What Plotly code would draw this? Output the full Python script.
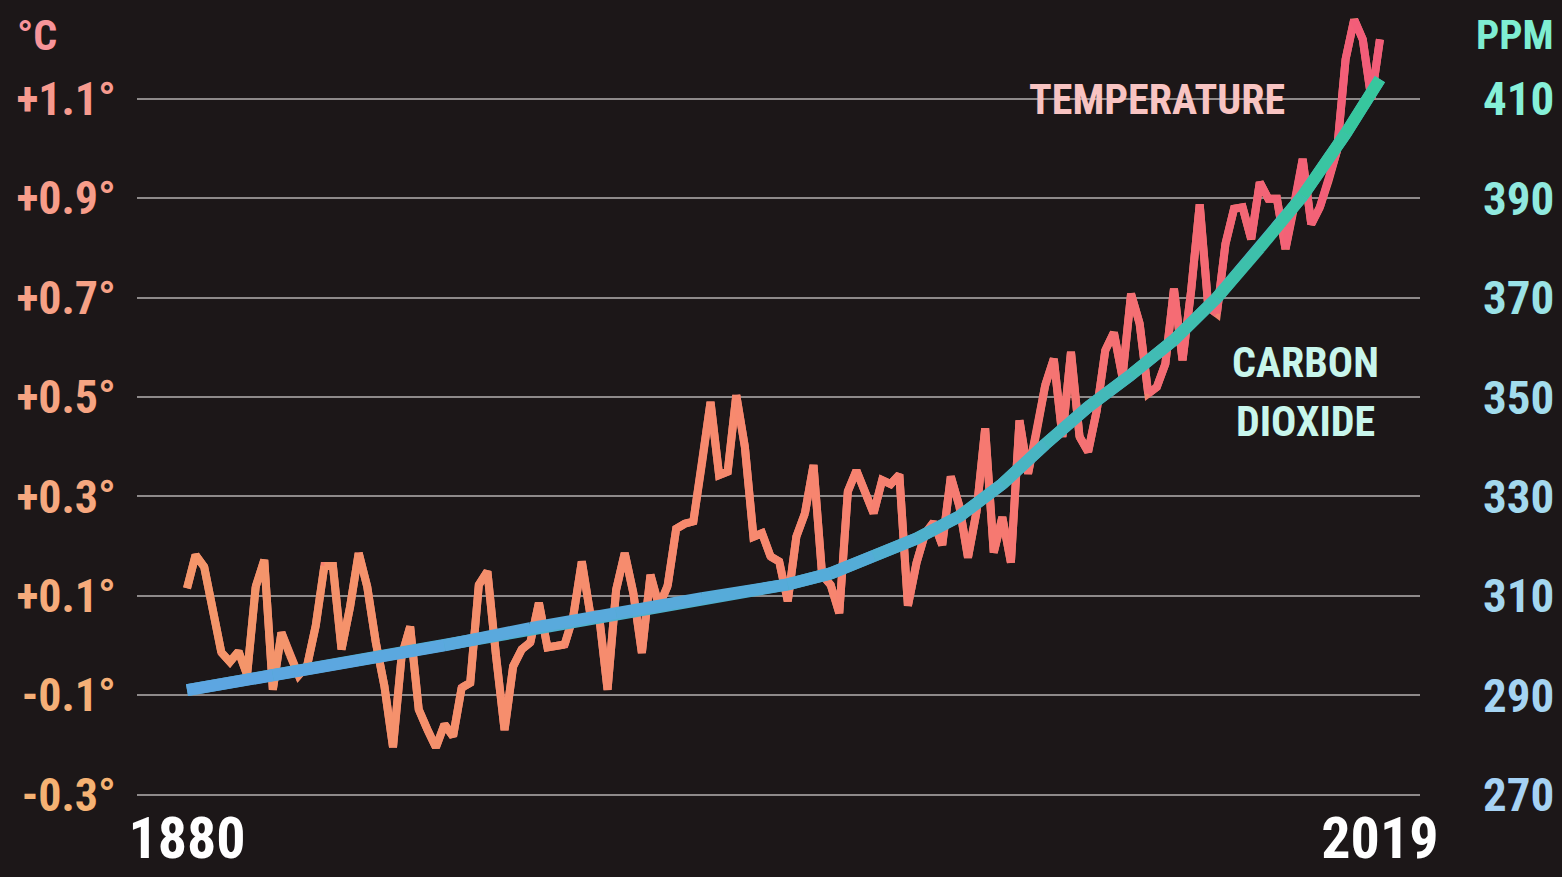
import plotly.graph_objects as go

# ---------------- data ----------------
years = list(range(1880, 2020))
temp_anomaly = [
    0.115, 0.182, 0.158, 0.07, -0.014, -0.033, -0.012, -0.059, 0.118, 0.172,   # 1880-1889
    -0.089, 0.026, -0.02, -0.06, -0.04, 0.04, 0.16, 0.16, -0.008, 0.078,       # 1890-1899
    0.186, 0.118, 0.006, -0.082, -0.205, -0.022, 0.038, -0.129, -0.169, -0.205,  # 1900-1909
    -0.159, -0.183, -0.085, -0.075, 0.122, 0.149, -0.02, -0.17, -0.042, -0.008,  # 1910-1919
    0.006, 0.086, -0.004, -0.002, 0.002, 0.058, 0.169, 0.062, 0.062, -0.089,     # 1920-1929
    0.112, 0.186, 0.106, -0.015, 0.142, 0.079, 0.12, 0.235, 0.245, 0.25,         # 1930-1939
    0.366, 0.49, 0.343, 0.35, 0.504, 0.40, 0.219, 0.226, 0.179, 0.169,           # 1940-1949
    0.089, 0.219, 0.266, 0.363, 0.142, 0.122, 0.065, 0.31, 0.352, 0.313,         # 1950-1959
    0.266, 0.333, 0.325, 0.344, 0.08, 0.166, 0.225, 0.248, 0.202, 0.34,          # 1960-1969
    0.28, 0.177, 0.27, 0.437, 0.187, 0.258, 0.167, 0.453, 0.346, 0.43,           # 1970-1979
    0.524, 0.577, 0.42, 0.591, 0.42, 0.39, 0.473, 0.594, 0.63, 0.54,             # 1980-1989
    0.708, 0.648, 0.507, 0.52, 0.567, 0.718, 0.574, 0.714, 0.888, 0.681,         # 1990-1999
    0.668, 0.808, 0.879, 0.882, 0.818, 0.932, 0.899, 0.899, 0.798, 0.882,        # 2000-2009
    0.979, 0.848, 0.882, 0.935, 0.996, 1.18, 1.26, 1.22, 1.1, 1.22,              # 2010-2019
]

co2_years = [1880, 1890, 1900, 1910, 1920, 1930, 1940, 1950, 1955, 1960, 1965,
             1970, 1975, 1980, 1985, 1990, 1995, 2000, 2005, 2010, 2015, 2019]
co2_ppm = [291, 294, 297, 300, 303.5, 306.5, 309.5, 312.3, 314.5, 318, 321.5,
           326, 332.5, 340.5, 348, 354.5, 361.5, 370, 380, 390.5, 403, 414]

temp_ticks = [-0.3, -0.1, 0.1, 0.3, 0.5, 0.7, 0.9, 1.1]
temp_tick_labels = ["-0.3°", "-0.1°", "+0.1°", "+0.3°", "+0.5°", "+0.7°", "+0.9°", "+1.1°"]
ppm_ticks = [270, 290, 310, 330, 350, 370, 390, 410]
ppm_tick_labels = ["270", "290", "310", "330", "350", "370", "390", "410"]
year_ticks = [1880, 2019]
year_tick_labels = ["1880", "2019"]

# ---------------- style ----------------
BG = "#1c1718"
FONT = "Roboto Condensed, Liberation Sans Narrow, Roboto, sans-serif"


def hex2rgb(h):
    h = h.lstrip("#")
    return tuple(int(h[i:i + 2], 16) for i in (0, 2, 4))


def lerp_color(stops, t):
    for (p0, c0), (p1, c1) in zip(stops[:-1], stops[1:]):
        if p0 <= t <= p1:
            f = 0 if p1 == p0 else (t - p0) / (p1 - p0)
            a, b = hex2rgb(c0), hex2rgb(c1)
            return "rgb(%d,%d,%d)" % tuple(round(a[i] + (b[i] - a[i]) * f) for i in range(3))
    return stops[-1][1]


temp_stops = [(0.0, "#f4966a"), (0.5, "#f7886f"), (0.8, "#f56e73"), (1.0, "#f25c79")]
co2_stops = [(0.0, "#5ea6e2"), (0.55, "#55acd8"), (0.75, "#44b8bc"), (1.0, "#36c89c")]
temp_label_stops = [(0.0, "#f5b273"), (1.0, "#f79a8e")]
ppm_label_stops = [(0.0, "#a6d2f4"), (0.6, "#a2dcec"), (1.0, "#86f0d8")]

fig = go.Figure()

y0, y1 = years[0], years[-1]

# ---- CO2 line (gradient by chunks) ----
fig.add_trace(go.Scatter(x=co2_years, y=co2_ppm, yaxis="y2", mode="lines",
                         line=dict(color="#4fb0cc", width=12),
                         hoverinfo="skip", showlegend=False))
for i in range(len(co2_years) - 1):
    t = ((co2_years[i] + co2_years[i + 1]) / 2 - y0) / (y1 - y0)
    fig.add_trace(go.Scatter(x=co2_years[i:i + 2], y=co2_ppm[i:i + 2], yaxis="y2", mode="lines",
                             line=dict(color=lerp_color(co2_stops, t), width=12),
                             hoverinfo="skip", showlegend=False))

# ---- Temperature line (gradient by chunks) ----
fig.add_trace(go.Scatter(x=years, y=temp_anomaly, mode="lines",
                         line=dict(color="#f6806f", width=8),
                         hoverinfo="skip", showlegend=False))
step = 4
for i in range(0, len(years) - 1, step):
    xs = years[i:i + step + 1]
    ys = temp_anomaly[i:i + step + 1]
    t = ((xs[0] + xs[-1]) / 2 - y0) / (y1 - y0)
    fig.add_trace(go.Scatter(x=xs, y=ys, mode="lines",
                             line=dict(color=lerp_color(temp_stops, t), width=8),
                             hoverinfo="skip", showlegend=False))

# ---- axes ----
n = len(temp_ticks)
temp_text = ['<span style="color:%s">%s</span>' % (lerp_color(temp_label_stops, k / (n - 1)), s)
             for k, s in enumerate(temp_tick_labels)]
ppm_text = ['<span style="color:%s">%s</span>' % (lerp_color(ppm_label_stops, k / (n - 1)), s)
            for k, s in enumerate(ppm_tick_labels)]

fig.update_layout(
    width=1562, height=877,
    paper_bgcolor=BG, plot_bgcolor=BG,
    margin=dict(l=137, r=142, t=10, b=72, autoexpand=False),
    font=dict(family=FONT, color="white"),
    xaxis=dict(range=[1874.17, 2023.67], showgrid=False, zeroline=False, showline=False,
               tickvals=year_ticks, ticktext=year_tick_labels, ticks="",
               tickfont=dict(size=58, color="white", family=FONT, weight="bold"),
               ticklabelstandoff=-6),
    yaxis=dict(range=[-0.32114, 1.27915], tickvals=temp_ticks, ticktext=temp_text,
               showgrid=True, gridcolor="#8e8a8a", gridwidth=1.5, zeroline=False,
               showline=False, ticks="", ticklabelstandoff=20,
               tickfont=dict(size=46, family=FONT, weight="bold")),
    yaxis2=dict(range=[267.886, 427.915], overlaying="y", side="right",
                tickvals=ppm_ticks, ticktext=ppm_text, showgrid=False, zeroline=False,
                showline=False, ticks="", ticklabelstandoff=62,
                tickfont=dict(size=47, family=FONT, weight="bold")),
    annotations=[
        dict(text="°C", xref="paper", yref="paper", x=-0.078, y=0.9673,
             xanchor="center", yanchor="middle", showarrow=False,
             font=dict(size=42, color="#f7949a", family=FONT, weight="bold")),
        dict(text="PPM", xref="paper", yref="paper", x=1.106, y=0.9686,
             xanchor="right", yanchor="middle", showarrow=False,
             font=dict(size=41, color="#7eeed2", family=FONT, weight="bold")),
        dict(text="TEMPERATURE", xref="paper", yref="paper", x=0.8963, y=0.8868,
             xanchor="right", yanchor="middle", showarrow=False,
             font=dict(size=42, color="#f8c4c2", family=FONT, weight="bold")),
        dict(text="CARBON", xref="paper", yref="paper", x=0.9104, y=0.5572,
             xanchor="center", yanchor="middle", showarrow=False,
             font=dict(size=42, color="#c8f6ec", family=FONT, weight="bold")),
        dict(text="DIOXIDE", xref="paper", yref="paper", x=0.9104, y=0.4818,
             xanchor="center", yanchor="middle", showarrow=False,
             font=dict(size=42, color="#c8f6ec", family=FONT, weight="bold")),
    ],
)

fig.write_html("out.html", config={"displayModeBar": False},
               post_script="document.body.style.margin='0';document.body.style.overflow='hidden';")
